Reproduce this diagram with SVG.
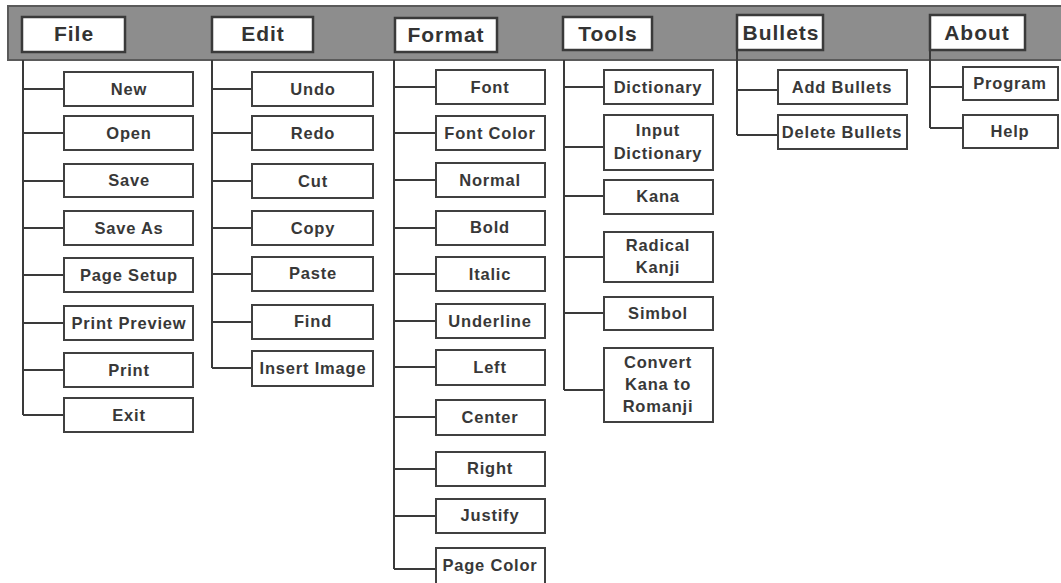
<svg xmlns="http://www.w3.org/2000/svg" width="1061" height="583" viewBox="0 0 1061 583">
<style>
.bar{fill:#8d8d8d;stroke:#5a5a5a;stroke-width:2}
.hb{fill:#ffffff;stroke:#3a3a3a;stroke-width:2.5}
.b{fill:#ffffff;stroke:#404040;stroke-width:2}
.ht{font-family:"Liberation Sans",Arial,sans-serif;font-weight:bold;font-size:21px;letter-spacing:1px;fill:#333;text-anchor:middle}
.t{font-family:"Liberation Sans",Arial,sans-serif;font-weight:bold;font-size:16.5px;letter-spacing:0.8px;fill:#383838;text-anchor:middle}
.c{fill:none;stroke:#3a3a3a;stroke-width:2}
</style>
<rect width="1061" height="583" fill="#ffffff"/>
<rect class="bar" x="8" y="6" width="1060" height="54"/>
<g id="connectors">
<path class="c" d="M23 60V415M23 89H64M23 133H64M23 181H64M23 228H64M23 275H64M23 323H64M23 370H64M23 415H64"/>
<path class="c" d="M212 60V368M212 89H252M212 133H252M212 181H252M212 228H252M212 274H252M212 322H252M212 368H252"/>
<path class="c" d="M394 60V569M394 87H436M394 133H436M394 180H436M394 228H436M394 274H436M394 321H436M394 367H436M394 417H436M394 469H436M394 516H436M394 569H436"/>
<path class="c" d="M564 60V390M564 87H604M564 147H604M564 196H604M564 257H604M564 313H604M564 390H604"/>
<path class="c" d="M737 50V135M737 90H778M737 135H778"/>
<path class="c" d="M930 50V128M930 87H963M930 128H963"/>
</g>
<g id="h-file"><rect class="hb" x="22" y="17" width="103" height="35"/><text class="ht" x="74" y="41">File</text></g>
<g id="h-edit"><rect class="hb" x="212" y="17" width="101" height="35"/><text class="ht" x="263" y="41">Edit</text></g>
<g id="h-format"><rect class="hb" x="395" y="18" width="102" height="34"/><text class="ht" x="446" y="42">Format</text></g>
<g id="h-tools"><rect class="hb" x="563" y="17" width="89" height="33"/><text class="ht" x="608" y="41">Tools</text></g>
<g id="h-bullets"><rect class="hb" x="737" y="15" width="86" height="35"/><text class="ht" x="781" y="40">Bullets</text></g>
<g id="h-about"><rect class="hb" x="930" y="15" width="95" height="35"/><text class="ht" x="977" y="40">About</text></g>

<g id="n-new"><rect class="b" x="64" y="72" width="129" height="34"/><text class="t" x="129" y="95">New</text></g>
<g id="n-open"><rect class="b" x="64" y="116" width="129" height="34"/><text class="t" x="129" y="139">Open</text></g>
<g id="n-save"><rect class="b" x="64" y="164" width="129" height="33"/><text class="t" x="129" y="186">Save</text></g>
<g id="n-saveas"><rect class="b" x="64" y="211" width="129" height="34"/><text class="t" x="129" y="234">Save As</text></g>
<g id="n-pagesetup"><rect class="b" x="64" y="258" width="129" height="34"/><text class="t" x="129" y="281">Page Setup</text></g>
<g id="n-printpreview"><rect class="b" x="64" y="306" width="129" height="34"/><text class="t" x="129" y="329">Print Preview</text></g>
<g id="n-print"><rect class="b" x="64" y="353" width="129" height="34"/><text class="t" x="129" y="376">Print</text></g>
<g id="n-exit"><rect class="b" x="64" y="398" width="129" height="34"/><text class="t" x="129" y="421">Exit</text></g>

<g id="n-undo"><rect class="b" x="252" y="72" width="121" height="34"/><text class="t" x="313" y="95">Undo</text></g>
<g id="n-redo"><rect class="b" x="252" y="116" width="121" height="34"/><text class="t" x="313" y="139">Redo</text></g>
<g id="n-cut"><rect class="b" x="252" y="164" width="121" height="34"/><text class="t" x="313" y="187">Cut</text></g>
<g id="n-copy"><rect class="b" x="252" y="211" width="121" height="34"/><text class="t" x="313" y="234">Copy</text></g>
<g id="n-paste"><rect class="b" x="252" y="257" width="121" height="34"/><text class="t" x="313" y="279">Paste</text></g>
<g id="n-find"><rect class="b" x="252" y="305" width="121" height="34"/><text class="t" x="313" y="327">Find</text></g>
<g id="n-insertimage"><rect class="b" x="252" y="351" width="121" height="35"/><text class="t" x="313" y="374">Insert Image</text></g>

<g id="n-font"><rect class="b" x="436" y="70" width="109" height="34"/><text class="t" x="490" y="93">Font</text></g>
<g id="n-fontcolor"><rect class="b" x="436" y="116" width="109" height="34"/><text class="t" x="490" y="139">Font Color</text></g>
<g id="n-normal"><rect class="b" x="436" y="163" width="109" height="34"/><text class="t" x="490" y="186">Normal</text></g>
<g id="n-bold"><rect class="b" x="436" y="211" width="109" height="34"/><text class="t" x="490" y="233">Bold</text></g>
<g id="n-italic"><rect class="b" x="436" y="257" width="109" height="34"/><text class="t" x="490" y="280">Italic</text></g>
<g id="n-underline"><rect class="b" x="436" y="304" width="109" height="34"/><text class="t" x="490" y="327">Underline</text></g>
<g id="n-left"><rect class="b" x="436" y="350" width="109" height="35"/><text class="t" x="490" y="373">Left</text></g>
<g id="n-center"><rect class="b" x="436" y="400" width="109" height="35"/><text class="t" x="490" y="423">Center</text></g>
<g id="n-right"><rect class="b" x="436" y="452" width="109" height="34"/><text class="t" x="490" y="474">Right</text></g>
<g id="n-justify"><rect class="b" x="436" y="499" width="109" height="34"/><text class="t" x="490" y="521">Justify</text></g>
<g id="n-pagecolor"><rect class="b" x="436" y="548" width="109" height="37"/><text class="t" x="490" y="571">Page Color</text></g>

<g id="n-dictionary"><rect class="b" x="604" y="70" width="109" height="34"/><text class="t" x="658" y="93">Dictionary</text></g>
<g id="n-inputdictionary"><rect class="b" x="604" y="115" width="109" height="55"/><text class="t" x="658" y="136">Input</text><text class="t" x="658" y="159">Dictionary</text></g>
<g id="n-kana"><rect class="b" x="604" y="180" width="109" height="34"/><text class="t" x="658" y="202">Kana</text></g>
<g id="n-radicalkanji"><rect class="b" x="604" y="232" width="109" height="50"/><text class="t" x="658" y="251">Radical</text><text class="t" x="658" y="273">Kanji</text></g>
<g id="n-simbol"><rect class="b" x="604" y="297" width="109" height="33"/><text class="t" x="658" y="319">Simbol</text></g>
<g id="n-convert"><rect class="b" x="604" y="348" width="109" height="74"/><text class="t" x="658" y="368">Convert</text><text class="t" x="658" y="390">Kana to</text><text class="t" x="658" y="412">Romanji</text></g>

<g id="n-addbullets"><rect class="b" x="778" y="70" width="129" height="34"/><text class="t" x="842" y="93">Add Bullets</text></g>
<g id="n-deletebullets"><rect class="b" x="778" y="115" width="129" height="34"/><text class="t" x="842" y="138">Delete Bullets</text></g>

<g id="n-program"><rect class="b" x="963" y="67" width="95" height="33"/><text class="t" x="1010" y="89">Program</text></g>
<g id="n-help"><rect class="b" x="963" y="115" width="95" height="33"/><text class="t" x="1010" y="137">Help</text></g>
</svg>
